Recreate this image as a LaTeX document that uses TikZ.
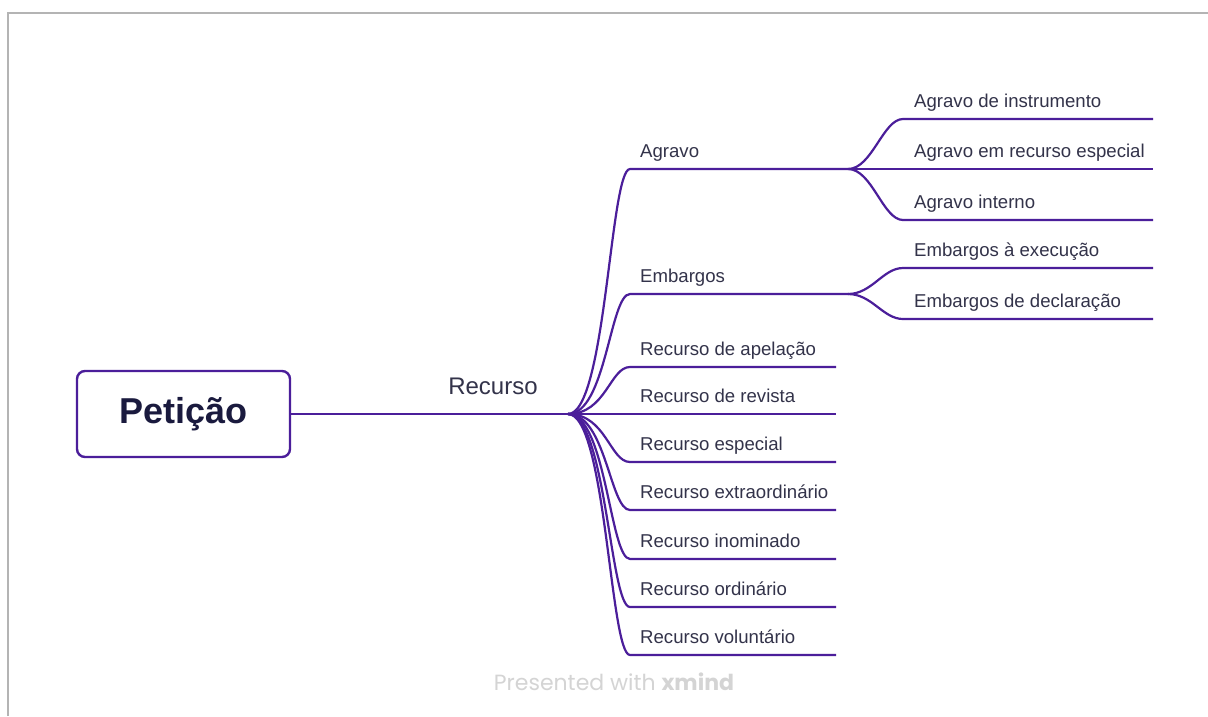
\documentclass[tikz,border=0pt]{standalone}
\usepackage{fontspec}
\setmainfont{Liberation Sans}
\newfontfamily\wmfont{Poppins}
\definecolor{branch}{HTML}{4B1E9A}
\definecolor{txt}{HTML}{33334A}
\definecolor{roottxt}{HTML}{1A1A3E}
\definecolor{frame}{HTML}{B4B4B4}
\definecolor{wmgray}{HTML}{D4D4D4}
\tikzset{
  br/.style={draw=branch, line width=2.2pt},
  rootbox/.style={draw=branch, line width=2.4pt, rounded corners=8pt, fill=white,
    minimum width=213pt, minimum height=86pt, inner sep=0pt,
    font=\fontsize{36}{40}\selectfont\bfseries, text=roottxt},
  lbl/.style={anchor=base west, inner sep=0pt, font=\fontsize{18.6}{20}\selectfont, text=txt},
  mainlbl/.style={anchor=base, inner sep=0pt, font=\fontsize{24}{26}\selectfont, text=txt},
  wm/.style={inner sep=0pt, font=\wmfont\fontsize{22}{24}\selectfont, text=wmgray}
}
\begin{document}
\begin{tikzpicture}[x=1pt,y=-1pt]
\useasboundingbox (0,0) rectangle (1208,716);
\fill[white] (0,0) rectangle (1208,716);
% frame
\coordinate (fb) at (8,716);
\coordinate (fc) at (8,13);
\coordinate (fr) at (1208,13);
\draw[frame, line width=1.6pt] (fb) -- (fc) -- (fr);

% root
\node[rootbox] (root) at (183.5,414) {Petição};
\coordinate (hub) at (568,414);
\draw[br] (root.east) -- (hub);
\node[mainlbl] (rec) at (493,394) {Recurso};

% first level branches
\coordinate (agS) at (630,169);   \coordinate (agH) at (848,169);
\coordinate (emS) at (630,294);   \coordinate (emH) at (848,294);
\draw[br] (hub) .. controls +(38,0) and +(-20,0) .. (agS) -- (agH);
\draw[br] (hub) .. controls +(38,0) and +(-20,0) .. (emS) -- (emH);
\node[lbl] (agravo) at (640,157) {Agravo};
\node[lbl] (embargos) at (640,282) {Embargos};

% recurso leaves
\foreach \y/\n/\t in {367/r1/Recurso de apelação, 414/r2/Recurso de revista, 462/r3/Recurso especial,
  510/r4/Recurso extraordinário, 559/r5/Recurso inominado, 607/r6/Recurso ordinário, 655/r7/Recurso voluntário}{
  \coordinate (\n s) at (630,\y);
  \coordinate (\n e) at (836,\y);
  \draw[br] (hub) .. controls +(38,0) and +(-20,0) .. (\n s) -- (\n e);
  \node[lbl] (\n) at (640,\y-12) {\t};
}

% agravo sub-leaves
\foreach \y/\n/\t in {119/a1/Agravo de instrumento, 169/a2/Agravo em recurso especial, 220/a3/Agravo interno}{
  \coordinate (\n s) at (903,\y);
  \coordinate (\n e) at (1153,\y);
  \draw[br] (agH) .. controls +(24,0) and +(-20,0) .. (\n s) -- (\n e);
  \node[lbl] (\n) at (914,\y-12) {\t};
}

% embargos sub-leaves
\foreach \y/\n/\t in {268/e1/Embargos à execução, 319/e2/Embargos de declaração}{
  \coordinate (\n s) at (903,\y);
  \coordinate (\n e) at (1153,\y);
  \draw[br] (emH) .. controls +(24,0) and +(-20,0) .. (\n s) -- (\n e);
  \node[lbl] (\n) at (914,\y-12) {\t};
}

% watermark
\node[wm] (wmark) at (614,682) {Presented with \textbf{xmind}};
\end{tikzpicture}
\end{document}
